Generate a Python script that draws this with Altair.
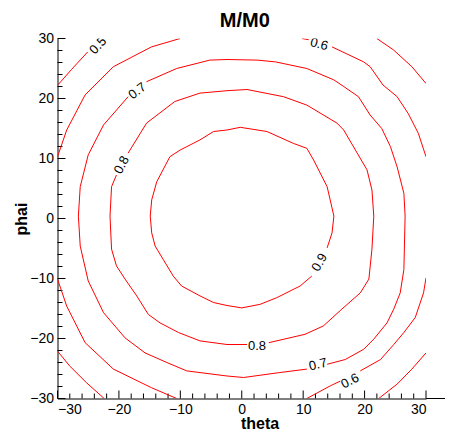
import altair as alt
import pandas as pd

# ---- axis ticks ----
MAJOR_TICKS = [-30, -20, -10, 0, 10, 20, 30]
MINOR_TICKS = [-28, -26, -24, -22, -18, -16, -14, -12, -8, -6, -4, -2,
               2, 4, 6, 8, 12, 14, 16, 18, 22, 24, 26, 28]

# ---- contour polylines: (theta, phai) ----
c05_tl = [(-29.9, 22.3), (-27.75, 24.8), (-25.1, 27.75)]
c05_tr = [(22.0, 30.0), (24.7, 28.1), (27.7, 25.3), (30.0, 22.5)]
c05_bl = [(-30.0, -22.1), (-28.0, -24.6), (-25.25, -27.4), (-22.4, -30.0)]
c05_br = [(30.0, -22.4), (27.7, -25.1), (25.3, -27.6), (22.3, -30.0)]

c06_tl = [(-30.0, 10.3), (-28.5, 14.75), (-25.5, 20.6), (-20.9, 25.3), (-14.7, 28.6), (-10.05, 30.0)]
c06_tr_a = [(9.8, 30.0), (10.9, 29.8)]
c06_tr_b = [(14.7, 28.6), (19.85, 26.1), (20.9, 25.3), (23.0, 22.25), (25.3, 20.3),
            (27.1, 17.5), (28.75, 14.2), (30.0, 10.3)]
c06_bl = [(-30.0, -10.1), (-28.5, -14.6), (-25.5, -20.7), (-20.9, -25.1), (-14.7, -28.2), (-10.6, -30.0)]
c06_br_a = [(30.0, -9.9), (29.6, -12.4), (28.25, -16.5), (26.4, -19.0), (24.75, -21.0),
            (22.6, -23.5), (19.3, -25.4)]
c06_br_b = [(16.05, -27.1), (14.4, -27.9), (10.6, -30.0)]

c07_a = [(-15.5, 22.8), (-10.6, 25.0), (-5.2, 26.4), (-2.4, 26.5), (2.5, 26.4), (5.5, 26.1),
         (10.6, 25.0), (15.0, 23.1), (16.6, 22.0), (19.0, 20.3), (20.9, 17.25), (22.8, 15.0),
         (24.2, 12.0), (25.3, 8.6), (26.4, 4.2), (26.6, 0.4), (26.4, -8.5), (25.8, -12.4),
         (24.75, -15.1), (23.65, -17.4), (21.5, -20.1), (19.85, -21.8), (16.85, -23.5), (13.9, -24.3)]
c07_b = [(10.6, -25.1), (6.0, -25.7), (0.3, -26.5), (-2.4, -26.25), (-8.95, -25.4), (-12.2, -24.0),
         (-15.75, -22.4), (-19.0, -19.9), (-22.5, -15.7), (-25.0, -10.4), (-26.3, -4.6),
         (-26.6, 0.4), (-26.3, 5.3), (-25.0, 10.6), (-22.5, 15.6), (-18.5, 20.3)]

c08_a = [(-18.5, 10.9), (-15.5, 15.9), (-10.9, 19.5), (-6.8, 20.9), (-2.4, 21.3), (0.85, 21.5),
         (6.8, 20.3), (10.6, 18.9), (15.5, 15.9), (16.6, 14.75), (18.8, 10.9), (20.4, 8.1),
         (21.2, 4.75), (21.5, 0.4), (21.2, -5.1), (20.7, -10.1), (19.3, -12.4), (16.3, -15.1),
         (13.3, -17.9), (10.3, -19.3), (4.4, -20.7)]
c08_b = [(0.85, -21.0), (-2.4, -21.0), (-6.8, -20.4), (-10.3, -19.0), (-13.3, -17.4), (-15.2, -16.0),
         (-17.1, -12.9), (-19.0, -10.1), (-20.4, -7.9), (-21.2, -5.1), (-21.45, 0.4), (-21.2, 5.3),
         (-20.4, 7.25)]

c09_a = [(11.4, -9.6), (9.5, -11.25), (5.7, -13.2), (3.0, -14.3), (0.0, -14.9), (-2.4, -14.5),
         (-4.6, -14.0), (-6.8, -12.9), (-9.8, -11.25), (-11.15, -9.6), (-12.8, -6.8), (-14.1, -4.6),
         (-14.66, -2.4), (-14.9, 0.4), (-14.66, 3.1), (-13.85, 6.1), (-11.7, 10.3), (-10.05, 11.4),
         (-6.8, 13.1), (-4.6, 14.5), (-2.4, 14.75), (-0.25, 15.2), (4.1, 14.5), (8.45, 12.5),
         (10.6, 11.7), (11.7, 9.75), (13.9, 5.3), (14.4, 3.1), (15.0, 0.4), (14.7, -2.4), (13.9, -4.9)]

SEGMENTS = [c05_tl, c05_tr, c05_bl, c05_br, c06_tl, c06_tr_a, c06_tr_b, c06_bl, c06_br_a, c06_br_b,
            c07_a, c07_b, c08_a, c08_b, c09_a]

# ---- contour labels ----
label_text = ["0.5", "0.6", "0.7", "0.8", "0.9", "0.8", "0.7", "0.6"]
label_theta = [-23.4, 12.6, -17.0, -19.55, 12.66, 2.48, 12.41, 17.62]
label_phai = [28.8, 29.05, 21.25, 8.92, -7.33, -21.25, -24.33, -27.08]
label_angle = [313, 15, 323, 298, 299, 0, 347, 333]

rows = []
for s, pts in enumerate(SEGMENTS):
    for i, (t, p) in enumerate(pts):
        rows.append({"seg": "s%02d" % s, "ord": i, "theta": t, "phai": p})
lines_df = pd.DataFrame(rows)
labels_df = pd.DataFrame({"text": label_text, "theta": label_theta,
                          "phai": label_phai, "ang": label_angle})
major_df = pd.DataFrame({"v": MAJOR_TICKS})
minor_df = pd.DataFrame({"v": MINOR_TICKS})

W, H = 368.5, 360
FONT = "Arial, Liberation Sans, sans-serif"
xs = alt.Scale(domain=[-30, 30], nice=False, zero=False)
ys = alt.Scale(domain=[-30, 30], nice=False, zero=False)

x_axis = alt.Axis(values=MAJOR_TICKS, title="theta", grid=False, ticks=False,
                  titleX=202, titleY=30, titleBaseline="alphabetic", titleAlign="center")
y_axis = alt.Axis(values=MAJOR_TICKS, title="phai", grid=False, ticks=False,
                  titleX=-31, titleY=180, titleAngle=270,
                  titleBaseline="alphabetic", titleAlign="center")

lines = alt.Chart(lines_df).mark_line(stroke="#ff0000", color="#ff0000", strokeWidth=1,
                                      clip=True).encode(
    x=alt.X("theta:Q", scale=xs, axis=x_axis),
    y=alt.Y("phai:Q", scale=ys, axis=y_axis),
    detail="seg:N",
    order="ord:Q",
)

labels = alt.Chart(labels_df).mark_text(font=FONT, fontSize=13, color="black", clip=True).encode(
    x=alt.X("theta:Q", scale=xs, axis=x_axis),
    y=alt.Y("phai:Q", scale=ys, axis=y_axis),
    text="text:N",
    angle=alt.Angle("ang:Q", scale=None),
)

y_major = alt.Chart(major_df).mark_rule(color="black", strokeWidth=1).encode(
    y=alt.Y("v:Q", scale=ys, axis=y_axis), x=alt.value(0), x2=alt.value(8))
y_minor = alt.Chart(minor_df).mark_rule(color="black", strokeWidth=1).encode(
    y=alt.Y("v:Q", scale=ys, axis=y_axis), x=alt.value(0), x2=alt.value(5))
x_major = alt.Chart(major_df).mark_rule(color="black", strokeWidth=1).encode(
    x=alt.X("v:Q", scale=xs, axis=x_axis), y=alt.value(H), y2=alt.value(H - 8))
x_minor = alt.Chart(minor_df).mark_rule(color="black", strokeWidth=1).encode(
    x=alt.X("v:Q", scale=xs, axis=x_axis), y=alt.value(H), y2=alt.value(H - 5))
x_ext = alt.Chart(major_df.head(1)).mark_rule(color="black", strokeWidth=1).encode(
    x=alt.value(W), x2=alt.value(W + 19), y=alt.value(H))

chart = alt.layer(x_ext, y_major, y_minor, x_major, x_minor, labels, lines).properties(
    width=W, height=H,
    background="white",
    title=alt.TitleParams("M/M0", font=FONT, fontSize=20, fontWeight="bold", color="black",
                          anchor="middle", offset=1, dx=3),
    autosize=alt.AutoSizeParams(type="none"),
    padding={"left": 49.5, "top": 30.5, "right": 20, "bottom": 33.5},
).configure_view(stroke=None).configure_axis(
    domainColor="black", domainWidth=1, ticks=False, tickSize=0, grid=False,
    labelFont=FONT, labelFontSize=14, labelColor="black", labelPadding=4,
    titleFont=FONT, titleFontSize=16, titleFontWeight="bold", titleColor="black",
)

chart.save("out.html", embed_options={"renderer": "svg", "actions": False})
